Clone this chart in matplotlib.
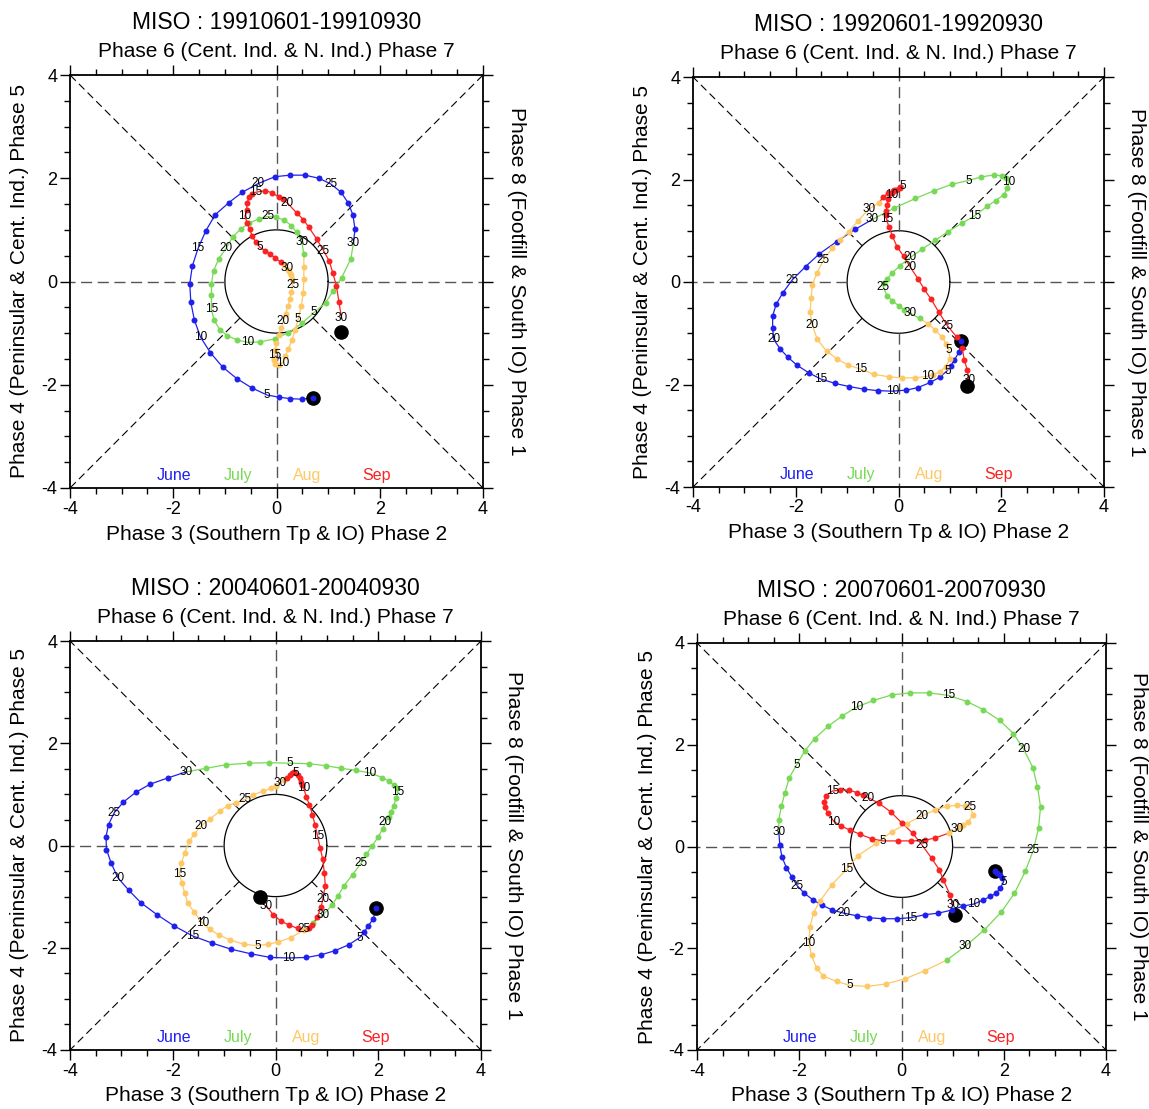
import numpy as np
import matplotlib
matplotlib.use('Agg')
import matplotlib.pyplot as plt
from matplotlib.ticker import MultipleLocator

plt.rcParams['font.family'] = ['Liberation Sans', 'DejaVu Sans']
plt.rcParams['axes.unicode_minus'] = False

# daily (x, y) positions, one list per month and year
jun_1991 = [(0.71,-2.25),(0.50,-2.28),(0.27,-2.27),(0.05,-2.24),(-0.18,-2.20),(-0.48,-2.06),(-0.77,-1.88),(-1.04,-1.66),(-1.28,-1.38),(-1.47,-1.08),
            (-1.59,-0.75),(-1.66,-0.40),(-1.68,-0.04),(-1.63,0.30),(-1.52,0.64),(-1.37,0.98),(-1.19,1.29),(-0.92,1.53),(-0.66,1.73),(-0.35,1.90),
            (-0.03,2.03),(0.26,2.06),(0.55,2.06),(0.82,2.00),(1.05,1.89),(1.25,1.73),(1.39,1.52),(1.48,1.29),(1.52,1.02),(1.49,0.74)]
jul_1991 = [(1.44,0.44),(1.26,0.07),(1.10,-0.18),(0.95,-0.41),(0.73,-0.60),(0.49,-0.81),(0.23,-0.99),(-0.03,-1.11),(-0.32,-1.17),(-0.55,-1.18),
            (-0.77,-1.13),(-0.95,-1.05),(-1.10,-0.93),(-1.21,-0.75),(-1.26,-0.54),(-1.26,-0.26),(-1.26,-0.04),(-1.22,0.20),(-1.12,0.44),(-0.98,0.64),
            (-0.85,0.86),(-0.69,1.02),(-0.53,1.13),(-0.33,1.22),(-0.17,1.26),(-0.01,1.24),(0.15,1.19),(0.29,1.08),(0.39,0.95),(0.49,0.77),(0.53,0.53)]
aug_1991 = [(0.53,0.29),(0.53,0.04),(0.52,-0.22),(0.48,-0.47),(0.42,-0.73),(0.36,-0.94),(0.30,-1.13),(0.23,-1.31),(0.17,-1.45),(0.12,-1.57),
            (0.04,-1.62),(-0.03,-1.59),(-0.05,-1.53),(-0.05,-1.48),(-0.04,-1.42),(-0.02,-1.33),(-0.01,-1.20),(0.04,-1.04),(0.09,-0.90),(0.13,-0.76),
            (0.18,-0.62),(0.22,-0.48),(0.26,-0.34),(0.29,-0.20),(0.31,-0.07),(0.30,0.05),(0.28,0.12),(0.26,0.17),(0.23,0.22),(0.20,0.26),(0.15,0.31)]
sep_1991 = [(0.08,0.38),(-0.02,0.45),(-0.12,0.53),(-0.22,0.60),(-0.32,0.66),(-0.40,0.76),(-0.47,0.88),(-0.52,1.01),(-0.57,1.14),(-0.61,1.26),
            (-0.58,1.39),(-0.57,1.52),(-0.53,1.63),(-0.48,1.70),(-0.40,1.73),(-0.22,1.76),(-0.09,1.72),(0.04,1.64),(0.12,1.59),(0.20,1.53),
            (0.39,1.33),(0.52,1.20),(0.62,1.06),(0.78,0.82),(0.91,0.60),(1.02,0.40),(1.09,0.17),(1.16,-0.08),(1.21,-0.40),(1.26,-0.71)]

jun_1992 = [(1.22,-1.16),(1.18,-1.36),(1.09,-1.52),(1.02,-1.63),(0.95,-1.73),(0.80,-1.86),(0.62,-1.96),(0.38,-2.06),(0.15,-2.11),(-0.12,-2.13),
            (-0.40,-2.12),(-0.68,-2.09),(-0.96,-2.04),(-1.23,-1.98),(-1.52,-1.89),(-1.75,-1.77),(-1.98,-1.62),(-2.15,-1.47),(-2.30,-1.31),(-2.43,-1.12),
            (-2.45,-0.90),(-2.45,-0.66),(-2.38,-0.43),(-2.25,-0.21),(-2.07,0.04),(-1.81,0.30),(-1.54,0.55),(-1.20,0.79),(-0.84,1.03),(-0.51,1.22)]
jul_1992 = [(-0.09,1.44),(0.33,1.63),(0.69,1.78),(1.05,1.91),(1.36,1.98),(1.61,2.05),(1.86,2.09),(2.02,2.07),(2.10,2.03),(2.15,1.96),
            (2.12,1.83),(2.05,1.70),(1.89,1.59),(1.73,1.48),(1.48,1.29),(1.24,1.15),(0.96,0.98),(0.71,0.81),(0.46,0.64),(0.23,0.48),
            (0.03,0.32),(-0.12,0.18),(-0.22,0.06),(-0.28,-0.02),(-0.30,-0.09),(-0.22,-0.27),(-0.12,-0.37),(0.00,-0.46),(0.10,-0.54),(0.23,-0.61),(0.41,-0.71)]
aug_1992 = [(0.57,-0.81),(0.72,-0.94),(0.85,-1.08),(0.93,-1.20),(0.98,-1.33),(1.00,-1.50),(0.92,-1.65),(0.80,-1.75),(0.68,-1.81),(0.56,-1.84),
            (0.33,-1.87),(0.07,-1.87),(-0.19,-1.85),(-0.48,-1.80),(-0.74,-1.70),(-0.98,-1.62),(-1.20,-1.50),(-1.40,-1.35),(-1.58,-1.12),(-1.68,-0.84),
            (-1.72,-0.58),(-1.70,-0.32),(-1.68,-0.06),(-1.59,0.17),(-1.46,0.43),(-1.29,0.66),(-1.14,0.82),(-0.97,0.98),(-0.78,1.20),(-0.58,1.42),(-0.38,1.55)]
sep_1992 = [(-0.30,1.65),(-0.20,1.74),(-0.08,1.80),(0.02,1.85),(0.09,1.87),(0.02,1.83),(-0.05,1.80),(-0.10,1.77),(-0.12,1.74),(-0.13,1.70),
            (-0.20,1.62),(-0.22,1.50),(-0.24,1.38),(-0.24,1.30),(-0.23,1.22),(-0.19,1.08),(-0.12,0.90),(-0.03,0.69),(0.10,0.50),(0.23,0.29),
            (0.38,0.06),(0.50,-0.14),(0.63,-0.33),(0.78,-0.58),(0.95,-0.85),(1.13,-1.07),(1.24,-1.29),(1.28,-1.52),(1.34,-1.72),(1.37,-1.91)]

jun_2004 = [(1.96,-1.23),(1.90,-1.44),(1.80,-1.58),(1.72,-1.70),(1.64,-1.80),(1.43,-1.94),(1.15,-2.06),(0.88,-2.14),(0.60,-2.19),(0.26,-2.20),
            (-0.10,-2.19),(-0.47,-2.12),(-0.86,-2.03),(-1.23,-1.91),(-1.61,-1.77),(-1.98,-1.57),(-2.31,-1.35),(-2.62,-1.12),(-2.86,-0.87),(-3.07,-0.63),
            (-3.20,-0.34),(-3.29,-0.08),(-3.30,0.17),(-3.25,0.41),(-3.14,0.64),(-2.96,0.85),(-2.72,1.04),(-2.44,1.20),(-2.10,1.32),(-1.74,1.44)]
jul_2004 = [(-1.35,1.51),(-0.96,1.58),(-0.52,1.61),(-0.13,1.62),(0.27,1.61),(0.65,1.60),(0.99,1.56),(1.28,1.51),(1.57,1.47),(1.83,1.42),
            (2.08,1.33),(2.20,1.26),(2.30,1.19),(2.36,1.12),(2.38,1.04),(2.35,0.92),(2.30,0.78),(2.25,0.66),(2.20,0.55),(2.14,0.45),
            (2.09,0.33),(2.00,0.17),(1.88,-0.01),(1.77,-0.17),(1.67,-0.34),(1.50,-0.57),(1.33,-0.79),(1.22,-0.98),(1.10,-1.17),(0.92,-1.36),(0.73,-1.51)]
aug_2004 = [(0.55,-1.66),(0.30,-1.80),(0.05,-1.89),(-0.15,-1.93),(-0.35,-1.96),(-0.62,-1.93),(-0.88,-1.85),(-1.10,-1.75),(-1.28,-1.64),(-1.42,-1.52),
            (-1.58,-1.31),(-1.71,-1.12),(-1.77,-0.92),(-1.82,-0.74),(-1.87,-0.55),(-1.83,-0.35),(-1.77,-0.14),(-1.68,0.08),(-1.58,0.23),(-1.45,0.38),
            (-1.27,0.52),(-1.09,0.67),(-0.93,0.78),(-0.77,0.84),(-0.59,0.90),(-0.44,0.99),(-0.25,1.06),(-0.08,1.12),(0.00,1.17),(0.08,1.22),(0.16,1.28)]
sep_2004 = [(0.23,1.33),(0.29,1.38),(0.33,1.41),(0.36,1.43),(0.39,1.42),(0.44,1.38),(0.48,1.32),(0.50,1.25),(0.52,1.18),(0.55,1.12),
            (0.60,0.95),(0.66,0.80),(0.72,0.60),(0.77,0.40),(0.82,0.18),(0.87,-0.05),(0.92,-0.27),(0.95,-0.53),(0.97,-0.79),(0.92,-1.04),
            (0.89,-1.21),(0.81,-1.40),(0.72,-1.55),(0.65,-1.62),(0.55,-1.64),(0.43,-1.62),(0.27,-1.56),(0.11,-1.48),(-0.05,-1.35),(-0.18,-1.18)]

jun_2007 = [(1.83,-0.49),(1.87,-0.52),(1.92,-0.57),(1.96,-0.62),(2.00,-0.69),(1.93,-0.82),(1.85,-0.92),(1.74,-0.98),(1.60,-1.05),(1.42,-1.13),
            (1.21,-1.17),(0.98,-1.25),(0.72,-1.31),(0.46,-1.34),(0.18,-1.40),(-0.09,-1.42),(-0.37,-1.42),(-0.63,-1.40),(-0.88,-1.36),(-1.13,-1.31),
            (-1.35,-1.25),(-1.56,-1.15),(-1.73,-1.05),(-1.90,-0.92),(-2.04,-0.77),(-2.15,-0.59),(-2.25,-0.42),(-2.34,-0.20),(-2.38,0.03),(-2.40,0.29)]
jul_2007 = [(-2.40,0.53),(-2.35,0.79),(-2.28,1.05),(-2.20,1.34),(-2.05,1.61),(-1.89,1.88),(-1.70,2.12),(-1.44,2.36),(-1.17,2.56),(-0.88,2.74),
            (-0.55,2.87),(-0.19,2.98),(0.17,3.02),(0.54,3.02),(0.92,2.97),(1.28,2.85),(1.60,2.69),(1.92,2.48),(2.19,2.22),(2.39,1.91),
            (2.57,1.55),(2.66,1.17),(2.72,0.78),(2.68,0.36),(2.58,-0.07),(2.42,-0.49),(2.21,-0.92),(1.95,-1.29),(1.62,-1.64),(1.25,-1.96),(0.89,-2.23)]
aug_2007 = [(0.46,-2.44),(0.07,-2.60),(-0.30,-2.70),(-0.67,-2.75),(-1.01,-2.73),(-1.27,-2.65),(-1.53,-2.55),(-1.66,-2.39),(-1.76,-2.14),(-1.81,-1.89),
            (-1.79,-1.58),(-1.72,-1.30),(-1.60,-1.08),(-1.36,-0.75),(-1.07,-0.44),(-0.85,-0.18),(-0.50,0.06),(-0.19,0.29),(0.10,0.45),(0.40,0.60),
            (0.66,0.72),(0.89,0.79),(1.09,0.81),(1.25,0.80),(1.34,0.77),(1.40,0.62),(1.31,0.49),(1.20,0.42),(1.14,0.38),(1.08,0.34),(0.92,0.26)]
sep_2007 = [(0.66,0.17),(0.45,0.12),(0.19,0.11),(-0.07,0.11),(-0.36,0.11),(-0.58,0.15),(-0.81,0.24),(-1.00,0.32),(-1.18,0.40),(-1.32,0.49),
            (-1.44,0.65),(-1.50,0.78),(-1.51,0.88),(-1.48,1.00),(-1.35,1.09),(-1.21,1.11),(-1.02,1.11),(-0.88,1.06),(-0.76,1.01),(-0.65,0.96),
            (-0.44,0.85),(-0.21,0.68),(0.00,0.47),(0.22,0.26),(0.40,0.03),(0.59,-0.23),(0.74,-0.46),(0.82,-0.66),(0.95,-0.95),(1.00,-1.15)]

# big black dots: first day and end point
start_pts = [(0.71,-2.25),(1.22,-1.16),(1.96,-1.23),(1.83,-0.49)]
end_pts = [(1.25,-0.97),(1.34,-2.03),(-0.31,-1.01),(1.05,-1.34)]

titles = ['MISO : 19910601-19910930', 'MISO : 19920601-19920930',
          'MISO : 20040601-20040930', 'MISO : 20070601-20070930']
month_names = ['June', 'July', 'Aug', 'Sep']
month_colors = ['#1f1fee', '#77d955', '#fdc865', '#fa2222']
legend_x = [-1.98, -0.74, 0.60, 1.94]

panels = [[jun_1991, jul_1991, aug_1991, sep_1991],
          [jun_1992, jul_1992, aug_1992, sep_1992],
          [jun_2004, jul_2004, aug_2004, sep_2004],
          [jun_2007, jul_2007, aug_2007, sep_2007]]

# axes boxes in figure fraction (left, bottom, width, height)
W, H = 1149, 1109
boxes = [(70/W, 1-488/H, 413/W, 413/H),
         (693/W, 1-487/H, 411/W, 410/H),
         (70/W, 1-1050/H, 411/W, 409/H),
         (697/W, 1-1050/H, 409/W, 407/H)]


def draw_background(ax):
    # unit circle and phase-dividing lines outside it
    t = np.linspace(0, 2*np.pi, 300)
    ax.plot(np.cos(t), np.sin(t), color='k', lw=0.9, zorder=1)
    c = np.cos(np.pi/4)
    for sx in (-1, 1):
        for sy in (-1, 1):
            ax.plot([sx*c, sx*4], [sy*c, sy*4], color='k', lw=0.8, dashes=(7, 4), zorder=1)
    for s in (-1, 1):
        ax.plot([s*1, s*4], [0, 0], color='#555555', lw=1.0, dashes=(8, 4), zorder=1)
        ax.plot([0, 0], [s*1, s*4], color='#555555', lw=1.0, dashes=(8, 4), zorder=1)


def draw_panel(ax, title, months, start, end):
    draw_background(ax)
    prev = None
    for m, pts in enumerate(months):
        col = month_colors[m]
        xs = [p[0] for p in pts]
        ys = [p[1] for p in pts]
        lx, ly = list(xs), list(ys)
        if prev is not None:
            lx = [prev[0]] + lx
            ly = [prev[1]] + ly
        ax.plot(lx, ly, color=col, lw=0.9, zorder=2)
        if m == 0:
            ax.plot(start[0], start[1], 'o', color='k', ms=9.5, zorder=3)
        for d in range(len(pts)):
            day = d + 1
            if day % 5 == 0:
                ax.text(xs[d], ys[d], str(day), fontsize=8.5, ha='center', va='center', zorder=5)
            else:
                ax.plot(xs[d], ys[d], 'o', color=col, ms=4.3, mec='none', zorder=4)
        prev = pts[-1]
        ax.text(legend_x[m], -3.75, month_names[m], color=col, fontsize=11.5, ha='center', va='center')
    ax.plot(end[0], end[1], 'o', color='k', ms=9.5, zorder=3)

    ax.set_xlim(-4, 4)
    ax.set_ylim(-4, 4)
    ax.xaxis.set_major_locator(MultipleLocator(2))
    ax.yaxis.set_major_locator(MultipleLocator(2))
    ax.xaxis.set_minor_locator(MultipleLocator(0.5))
    ax.yaxis.set_minor_locator(MultipleLocator(0.5))
    ax.tick_params(which='both', direction='out', top=True, right=True, labeltop=False, labelright=False, width=1.0)
    ax.tick_params(which='major', length=7, labelsize=13, pad=2)
    ax.tick_params(which='minor', length=4)
    for s in ax.spines.values():
        s.set_linewidth(1.3)

    ax.text(0.5, 1.128, title, transform=ax.transAxes, fontsize=16.5, ha='center', va='center')
    ax.text(0.5, 1.058, 'Phase 6 (Cent. Ind. & N. Ind.) Phase 7', transform=ax.transAxes,
            fontsize=15, ha='center', va='center')
    ax.text(0.5, -0.112, 'Phase 3 (Southern Tp & IO) Phase 2', transform=ax.transAxes,
            fontsize=15, ha='center', va='center')
    ax.text(-0.122, 0.5, 'Phase 4 (Peninsular & Cent. Ind.) Phase 5', transform=ax.transAxes,
            fontsize=15, ha='center', va='center', rotation=90)
    ax.text(1.08, 0.5, 'Phase 8 (Footfill & South IO) Phase 1', transform=ax.transAxes,
            fontsize=15, ha='center', va='center', rotation=270)


fig = plt.figure(figsize=(W/100, H/100), dpi=100)
for i in range(4):
    ax = fig.add_axes(boxes[i])
    draw_panel(ax, titles[i], panels[i], start_pts[i], end_pts[i])

fig.savefig('out.png', dpi=100)
